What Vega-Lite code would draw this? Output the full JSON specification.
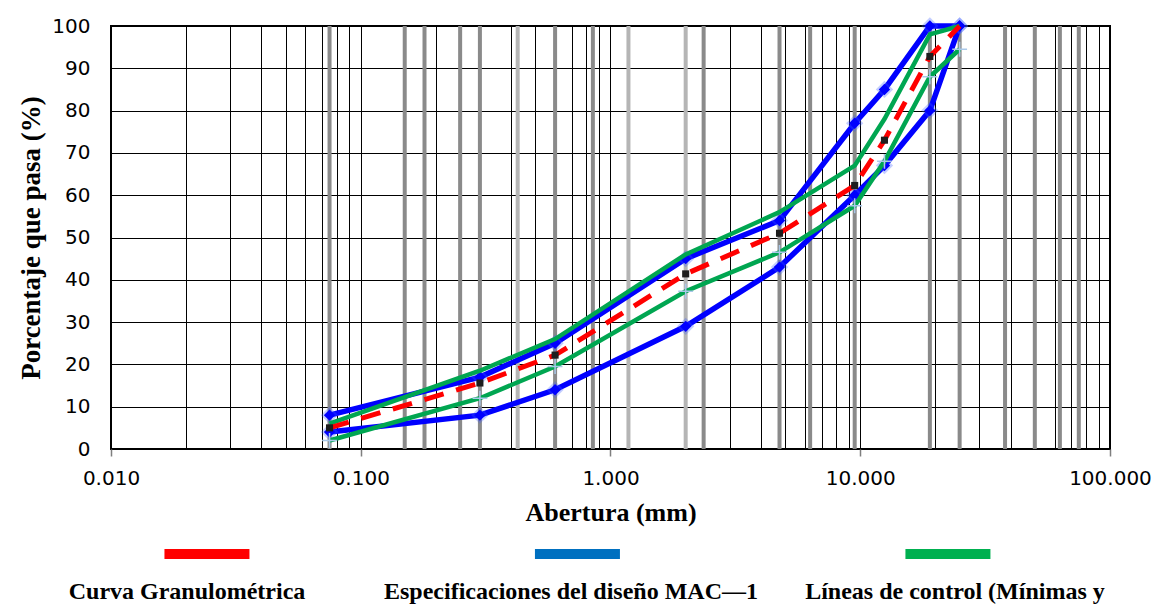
{
  "$schema": "https://vega.github.io/schema/vega-lite/v6.json",
  "background": "white",
  "padding": {"left": 16, "top": 14, "right": 5, "bottom": 5},
  "spacing": 93,
  "bounds": "flush",
  "resolve": {"scale": {"color": "independent", "x": "independent", "y": "independent"}},
  "config": {"view": {"stroke": null}, "font": "Liberation Serif"},
  "datasets": {
    "curvas": [
      {"serie": "curva", "limite": "unica", "abertura": 0.075, "pasa": 5},
      {"serie": "curva", "limite": "unica", "abertura": 0.3, "pasa": 15.6},
      {"serie": "curva", "limite": "unica", "abertura": 0.6, "pasa": 22.2},
      {"serie": "curva", "limite": "unica", "abertura": 2.0, "pasa": 41.4},
      {"serie": "curva", "limite": "unica", "abertura": 4.75, "pasa": 51},
      {"serie": "curva", "limite": "unica", "abertura": 9.5, "pasa": 62.3},
      {"serie": "curva", "limite": "unica", "abertura": 12.5, "pasa": 73},
      {"serie": "curva", "limite": "unica", "abertura": 19, "pasa": 92.8},
      {"serie": "curva", "limite": "unica", "abertura": 25, "pasa": 100},
      {"serie": "especificacion", "limite": "superior", "abertura": 0.075, "pasa": 8},
      {"serie": "especificacion", "limite": "superior", "abertura": 0.3, "pasa": 17},
      {"serie": "especificacion", "limite": "superior", "abertura": 0.6, "pasa": 25},
      {"serie": "especificacion", "limite": "superior", "abertura": 2.0, "pasa": 45},
      {"serie": "especificacion", "limite": "superior", "abertura": 4.75, "pasa": 54},
      {"serie": "especificacion", "limite": "superior", "abertura": 9.5, "pasa": 77},
      {"serie": "especificacion", "limite": "superior", "abertura": 12.5, "pasa": 85},
      {"serie": "especificacion", "limite": "superior", "abertura": 19, "pasa": 100},
      {"serie": "especificacion", "limite": "superior", "abertura": 25, "pasa": 100},
      {"serie": "especificacion", "limite": "inferior", "abertura": 0.075, "pasa": 4},
      {"serie": "especificacion", "limite": "inferior", "abertura": 0.3, "pasa": 8},
      {"serie": "especificacion", "limite": "inferior", "abertura": 0.6, "pasa": 14},
      {"serie": "especificacion", "limite": "inferior", "abertura": 2.0, "pasa": 29},
      {"serie": "especificacion", "limite": "inferior", "abertura": 4.75, "pasa": 43},
      {"serie": "especificacion", "limite": "inferior", "abertura": 9.5, "pasa": 60},
      {"serie": "especificacion", "limite": "inferior", "abertura": 12.5, "pasa": 67},
      {"serie": "especificacion", "limite": "inferior", "abertura": 19, "pasa": 80},
      {"serie": "especificacion", "limite": "inferior", "abertura": 25, "pasa": 100},
      {"serie": "control", "limite": "superior", "abertura": 0.075, "pasa": 6},
      {"serie": "control", "limite": "superior", "abertura": 0.3, "pasa": 18.5},
      {"serie": "control", "limite": "superior", "abertura": 0.6, "pasa": 26},
      {"serie": "control", "limite": "superior", "abertura": 2.0, "pasa": 46},
      {"serie": "control", "limite": "superior", "abertura": 4.75, "pasa": 56},
      {"serie": "control", "limite": "superior", "abertura": 9.5, "pasa": 67},
      {"serie": "control", "limite": "superior", "abertura": 12.5, "pasa": 78},
      {"serie": "control", "limite": "superior", "abertura": 19, "pasa": 98},
      {"serie": "control", "limite": "superior", "abertura": 25, "pasa": 100},
      {"serie": "control", "limite": "inferior", "abertura": 0.075, "pasa": 2},
      {"serie": "control", "limite": "inferior", "abertura": 0.3, "pasa": 12},
      {"serie": "control", "limite": "inferior", "abertura": 0.6, "pasa": 19.5},
      {"serie": "control", "limite": "inferior", "abertura": 2.0, "pasa": 37.3},
      {"serie": "control", "limite": "inferior", "abertura": 4.75, "pasa": 46.5},
      {"serie": "control", "limite": "inferior", "abertura": 9.5, "pasa": 57.5},
      {"serie": "control", "limite": "inferior", "abertura": 12.5, "pasa": 68},
      {"serie": "control", "limite": "inferior", "abertura": 19, "pasa": 88},
      {"serie": "control", "limite": "inferior", "abertura": 25, "pasa": 94.5}
    ],
    "tamices": [
      {"abertura": 0.075, "grupo": "A"},
      {"abertura": 0.15, "grupo": "A"},
      {"abertura": 0.18, "grupo": "A"},
      {"abertura": 0.25, "grupo": "A"},
      {"abertura": 0.3, "grupo": "A"},
      {"abertura": 0.425, "grupo": "B"},
      {"abertura": 0.6, "grupo": "A"},
      {"abertura": 0.85, "grupo": "A"},
      {"abertura": 1.18, "grupo": "B"},
      {"abertura": 2.0, "grupo": "B"},
      {"abertura": 2.36, "grupo": "A"},
      {"abertura": 4.75, "grupo": "A"},
      {"abertura": 6.3, "grupo": "A"},
      {"abertura": 9.5, "grupo": "A"},
      {"abertura": 19, "grupo": "A"},
      {"abertura": 25, "grupo": "A"},
      {"abertura": 38, "grupo": "A"},
      {"abertura": 50, "grupo": "A"},
      {"abertura": 63, "grupo": "A"},
      {"abertura": 75, "grupo": "A"}
    ],
    "leyenda": [
      {"nombre": "Curva Granulométrica"},
      {"nombre": "Especificaciones del diseño MAC—1"},
      {"nombre": "Líneas de control (Mínimas y"}
    ]
  },
  "vconcat": [
    {
      "width": 999,
      "height": 423,
      "view": {"stroke": "black", "strokeWidth": 2},
      "layer": [
        {
          "data": {"name": "tamices"},
          "mark": {"type": "rule", "strokeWidth": 4},
          "encoding": {
            "x": {
              "field": "abertura",
              "type": "quantitative",
              "scale": {"type": "log", "domain": [0.01, 100], "nice": false},
              "axis": {
                "values": [0.01, 0.02, 0.03, 0.04, 0.05, 0.06, 0.07, 0.08, 0.09, 0.1, 0.2, 0.3, 0.4, 0.5, 0.6, 0.7, 0.8, 0.9, 1, 2, 3, 4, 5, 6, 7, 8, 9, 10, 20, 30, 40, 50, 60, 70, 80, 90, 100],
                "labelExpr": "indexof([0.01, 0.1, 1, 10, 100], datum.value) >= 0 ? format(datum.value, '.3f') : ''",
                "labelOverlap": false,
                "labelFlush": false,
                "labelFont": "DejaVu Sans",
                "labelFontSize": 20,
                "labelColor": "black",
                "labelPadding": 12,
                "tickSize": 7,
                "tickColor": "#7f7f7f",
                "tickWidth": 1.5,
                "tickOpacity": {"condition": {"test": "indexof([0.01, 0.1, 1, 10, 100], datum.value) >= 0", "value": 1}, "value": 0},
                "grid": true,
                "gridColor": "#000000",
                "gridWidth": 1,
                "gridOpacity": 1,
                "domain": false,
                "title": "Abertura (mm)",
                "titleFont": "Liberation Serif",
                "titleFontWeight": "bold",
                "titleFontSize": 26,
                "titleColor": "black",
                "titlePadding": 11
              }
            },
            "color": {
              "field": "grupo",
              "type": "nominal",
              "scale": {"domain": ["A", "B"], "range": ["#8a8a8a", "#b5b5b5"]},
              "legend": null
            }
          }
        },
        {
          "data": {"name": "curvas"},
          "transform": [{"filter": "datum.serie === 'especificacion'"}],
          "mark": {"type": "line", "strokeWidth": 5.5, "color": "#0000FF"},
          "encoding": {
            "x": {"field": "abertura", "type": "quantitative", "scale": {"type": "log", "domain": [0.01, 100], "nice": false}},
            "y": {
              "field": "pasa",
              "type": "quantitative",
              "scale": {"domain": [0, 100], "nice": false},
              "axis": {
                "values": [0, 10, 20, 30, 40, 50, 60, 70, 80, 90, 100],
                "ticks": false,
                "labelFlush": false,
                "labelPadding": 21,
                "labelFont": "DejaVu Sans",
                "labelFontSize": 20,
                "labelColor": "black",
                "grid": true,
                "gridColor": "#000000",
                "gridWidth": 1,
                "gridOpacity": 1,
                "domain": false,
                "title": "Porcentaje que pasa (%)",
                "titleFont": "Liberation Serif",
                "titleFontWeight": "bold",
                "titleFontSize": 27,
                "titleColor": "black",
                "titlePadding": 6
              }
            },
            "detail": {"field": "limite"}
          }
        },
        {
          "data": {"name": "curvas"},
          "transform": [{"filter": "datum.serie === 'especificacion'"}],
          "mark": {"type": "point", "shape": "diamond", "filled": true, "size": 300, "color": "#3d5cff", "opacity": 0.3},
          "encoding": {
            "x": {"field": "abertura", "type": "quantitative", "scale": {"type": "log", "domain": [0.01, 100], "nice": false}},
            "y": {"field": "pasa", "type": "quantitative", "scale": {"domain": [0, 100], "nice": false}}
          }
        },
        {
          "data": {"name": "curvas"},
          "transform": [{"filter": "datum.serie === 'especificacion'"}],
          "mark": {"type": "point", "shape": "diamond", "filled": true, "size": 130, "color": "#0000FF", "opacity": 1},
          "encoding": {
            "x": {"field": "abertura", "type": "quantitative", "scale": {"type": "log", "domain": [0.01, 100], "nice": false}},
            "y": {"field": "pasa", "type": "quantitative", "scale": {"domain": [0, 100], "nice": false}}
          }
        },
        {
          "data": {"name": "curvas"},
          "transform": [{"filter": "datum.serie === 'control'"}],
          "mark": {"type": "line", "strokeWidth": 4.5, "color": "#00A651"},
          "encoding": {
            "x": {"field": "abertura", "type": "quantitative", "scale": {"type": "log", "domain": [0.01, 100], "nice": false}},
            "y": {"field": "pasa", "type": "quantitative", "scale": {"domain": [0, 100], "nice": false}},
            "detail": {"field": "limite"}
          }
        },
        {
          "data": {"name": "curvas"},
          "transform": [{"filter": "datum.serie === 'curva'"}],
          "mark": {"type": "line", "strokeWidth": 5, "color": "#FF0000", "strokeDash": [20, 13]},
          "encoding": {
            "x": {"field": "abertura", "type": "quantitative", "scale": {"type": "log", "domain": [0.01, 100], "nice": false}},
            "y": {"field": "pasa", "type": "quantitative", "scale": {"domain": [0, 100], "nice": false}}
          }
        },
        {
          "data": {"name": "curvas"},
          "transform": [{"filter": "datum.serie === 'curva' && datum.abertura < 25"}],
          "mark": {"type": "point", "shape": "square", "filled": true, "size": 50, "color": "#1e1e1e", "opacity": 1},
          "encoding": {
            "x": {"field": "abertura", "type": "quantitative", "scale": {"type": "log", "domain": [0.01, 100], "nice": false}},
            "y": {"field": "pasa", "type": "quantitative", "scale": {"domain": [0, 100], "nice": false}}
          }
        },
        {
          "data": {"name": "curvas"},
          "transform": [{"filter": "datum.serie === 'control' && datum.limite === 'inferior'"}],
          "mark": {"type": "point", "shape": "M-1,0H1M0,-1V1", "filled": false, "size": 220, "stroke": "#a9c8e8", "strokeWidth": 1.5, "opacity": 1},
          "encoding": {
            "x": {"field": "abertura", "type": "quantitative", "scale": {"type": "log", "domain": [0.01, 100], "nice": false}},
            "y": {"field": "pasa", "type": "quantitative", "scale": {"domain": [0, 100], "nice": false}}
          }
        }
      ]
    },
    {
      "width": 920,
      "height": 62,
      "data": {"name": "leyenda"},
      "resolve": {"scale": {"x": "independent"}},
      "layer": [
        {
          "mark": {"type": "tick", "orient": "horizontal", "thickness": 10, "size": 85, "opacity": 1},
          "encoding": {
            "x": {"field": "nombre", "type": "nominal", "scale": {"type": "point", "padding": 0.2416, "align": 0.536, "domain": ["Curva Granulométrica", "Especificaciones del diseño MAC—1", "Líneas de control (Mínimas y"]}, "axis": null},
            "y": {"datum": "símbolo", "type": "nominal", "scale": {"type": "point", "domain": ["símbolo", "etiqueta"], "padding": 0.316}, "axis": null},
            "color": {"field": "nombre", "type": "nominal", "scale": {"domain": ["Curva Granulométrica", "Especificaciones del diseño MAC—1", "Líneas de control (Mínimas y"], "range": ["#FF0000", "#0070C0", "#00B050"]}, "legend": null}
          }
        },
        {
          "mark": {"type": "text", "font": "Liberation Serif", "fontWeight": "bold", "fontSize": 24, "color": "black"},
          "encoding": {
            "x": {"field": "nombre", "type": "nominal", "scale": {"type": "point", "padding": 0.198, "domain": ["Curva Granulométrica", "Especificaciones del diseño MAC—1", "Líneas de control (Mínimas y"]}, "axis": null},
            "y": {"datum": "etiqueta", "type": "nominal", "scale": {"type": "point", "domain": ["símbolo", "etiqueta"], "padding": 0.316}, "axis": null},
            "text": {"field": "nombre"}
          }
        }
      ]
    }
  ]
}
